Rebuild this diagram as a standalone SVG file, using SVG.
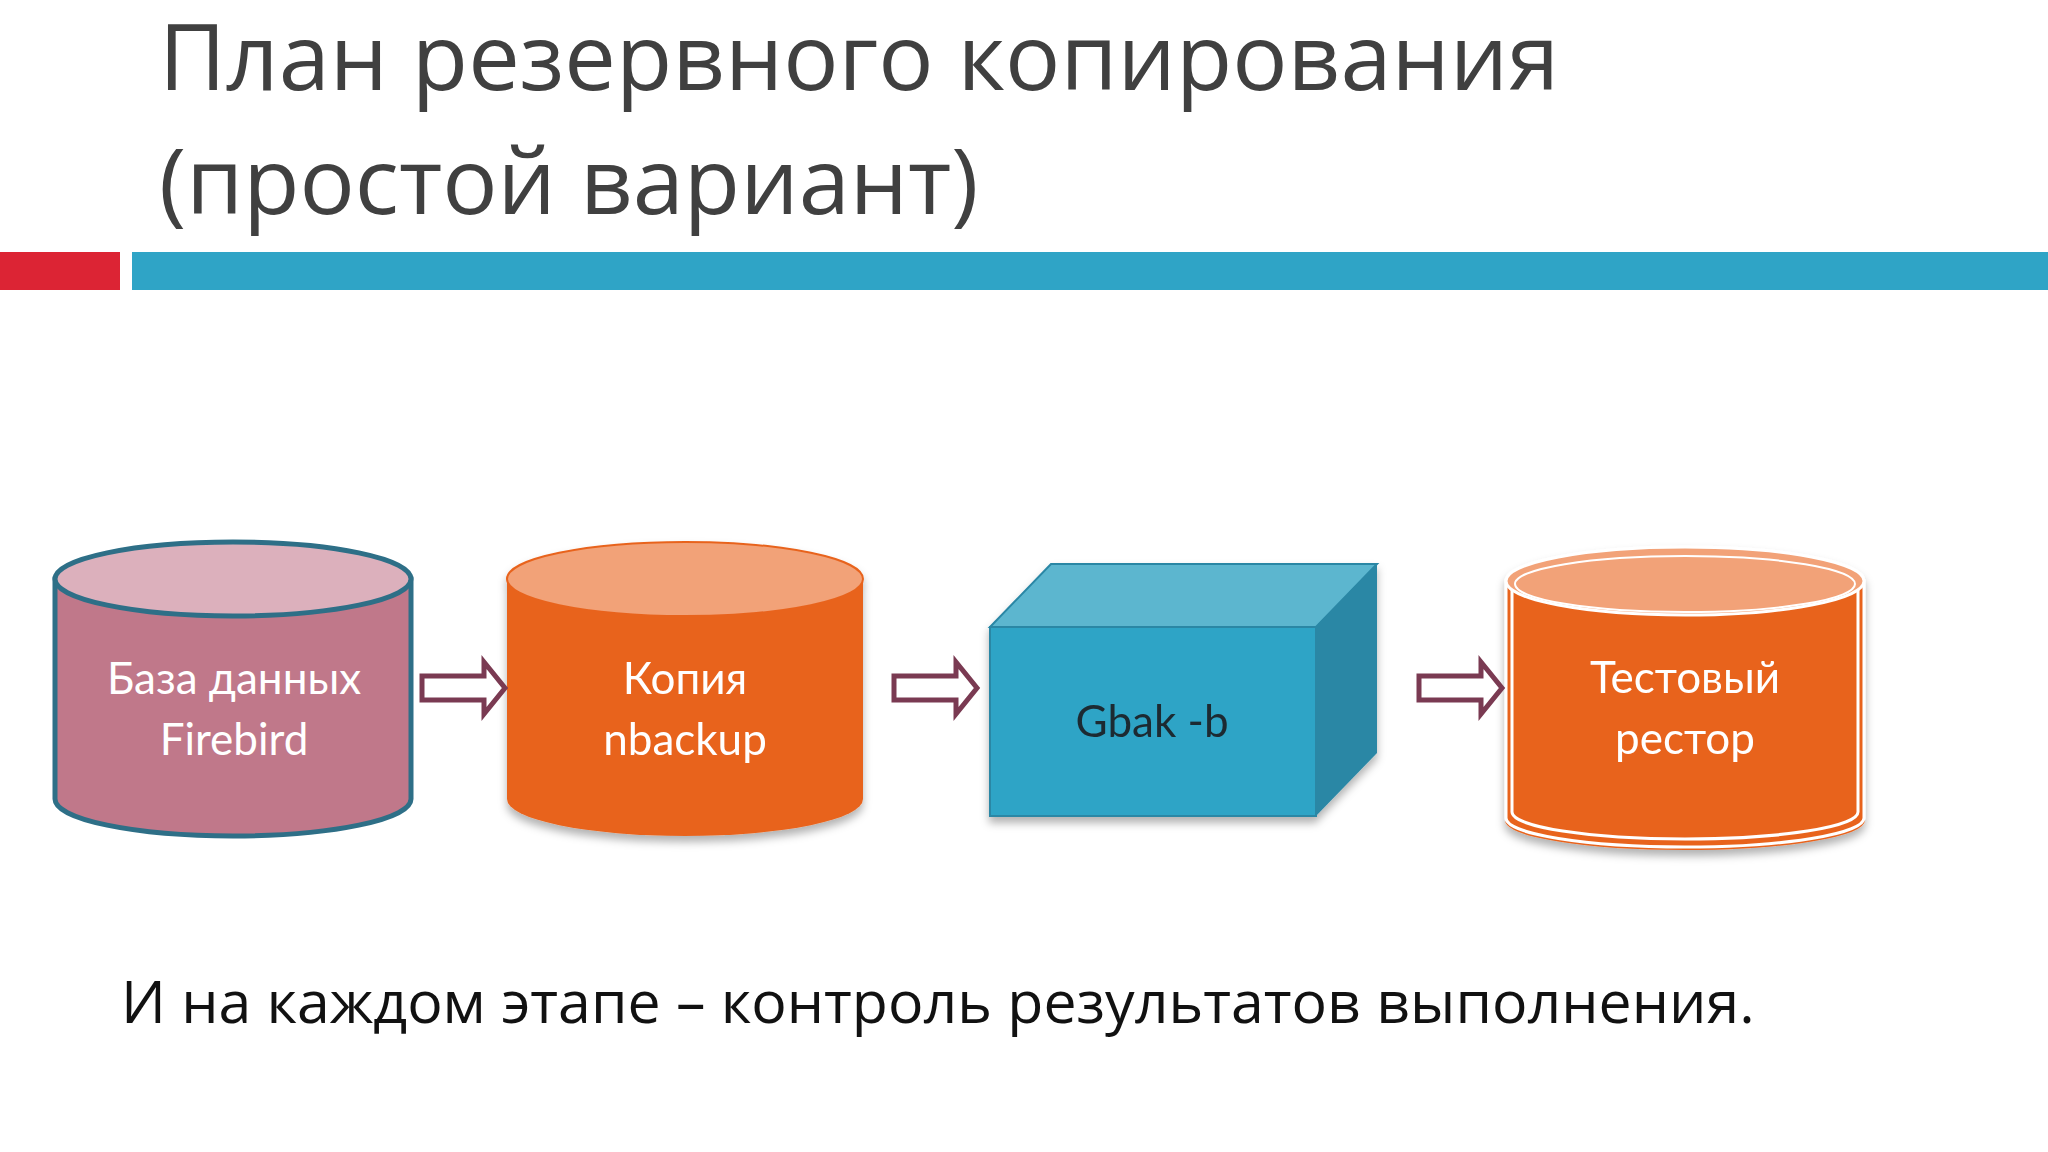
<svg xmlns="http://www.w3.org/2000/svg" width="2048" height="1152" viewBox="0 0 2048 1152">
<defs>
<style>
.t{font-family:"Open Sans","Noto Sans",sans-serif}
.lbl{font-family:"Lato","Open Sans",sans-serif;font-size:44px;fill:#fff;text-anchor:middle}
.arr{fill:#fff;stroke:#7A3A52;stroke-width:5}
</style>
<filter id="sh" x="-10%" y="-10%" width="120%" height="130%"><feDropShadow dx="0" dy="6" stdDeviation="4" flood-color="#000" flood-opacity="0.3"/></filter>
</defs>
<rect width="2048" height="1152" fill="#fff"/>
<text class="t" x="159" y="90" font-size="92" fill="#404040">План резервного копирования</text>
<text class="t" x="159" y="214" font-size="92" fill="#404040">(простой вариант)</text>
<rect x="0" y="252" width="120" height="38" fill="#DC2434"/>
<rect x="132" y="252" width="1916" height="38" fill="#2FA4C6"/>
<g id="db">
<path d="M55 579 V799 A178 37 0 0 0 411 799 V579 Z" fill="#C0788A" stroke="#2E6F87" stroke-width="5"/>
<ellipse cx="233" cy="579" rx="178" ry="37" fill="#DCB0BC" stroke="#2E6F87" stroke-width="5"/>
<text class="lbl" x="234" y="694">База данных</text>
<text class="lbl" x="234" y="755">Firebird</text>
</g>
<g id="copy" filter="url(#sh)">
<path d="M507 579 V799 A178 37 0 0 0 863 799 V579 Z" fill="#E8641E"/>
<ellipse cx="685" cy="579" rx="178" ry="37" fill="#F2A278" stroke="#E8641E" stroke-width="2"/>
<text class="lbl" x="685" y="694">Копия</text>
<text class="lbl" x="685" y="755">nbackup</text>
</g>
<g id="gbak" filter="url(#sh)">
<polygon points="990,627 1051,564 1377,564 1316,627" fill="#5CB6CF" stroke="#2A87A5" stroke-width="2"/>
<polygon points="1316,627 1377,564 1377,753 1316,816" fill="#2A87A5"/>
<rect x="990" y="627" width="326" height="189" fill="#2FA4C6" stroke="#2A87A5" stroke-width="2"/>
<text x="1152" y="737" font-family="Lato,'Open Sans',sans-serif" font-size="44" fill="#1E2A30" text-anchor="middle">Gbak -b</text>
</g>
<g id="restore" filter="url(#sh)">
<path d="M1506 581 V820 A179 29 0 0 0 1864 820 V581 Z" fill="#E8641E" stroke="#E8641E" stroke-width="2"/>
<path d="M1506 581 V820 A179 29 0 0 0 1864 820 V581" fill="none" stroke="#fff" stroke-width="3" transform="translate(0,-2)"/>
<path d="M1512 585 V812 A173 27 0 0 0 1858 812 V585" fill="none" stroke="#fff" stroke-width="3"/>
<ellipse cx="1685" cy="581" rx="179" ry="34" fill="#F2A278" stroke="#fff" stroke-width="3"/>
<ellipse cx="1685" cy="584" rx="170" ry="28" fill="none" stroke="#fff" stroke-width="2"/>
<text class="lbl" x="1685" y="693">Тестовый</text>
<text class="lbl" x="1685" y="754">рестор</text>
</g>
<g id="connectors">
<polygon class="arr" points="422,676 484,676 484,662 505,688 484,714 484,700 422,700"/>
<polygon class="arr" points="894,676 956,676 956,662 977,688 956,714 956,700 894,700"/>
<polygon class="arr" points="1419,676 1481,676 1481,662 1502,688 1481,714 1481,700 1419,700"/>
</g>
<text class="t" x="121" y="1023" font-size="59" fill="#111">И на каждом этапе – контроль результатов выполнения.</text>
</svg>
